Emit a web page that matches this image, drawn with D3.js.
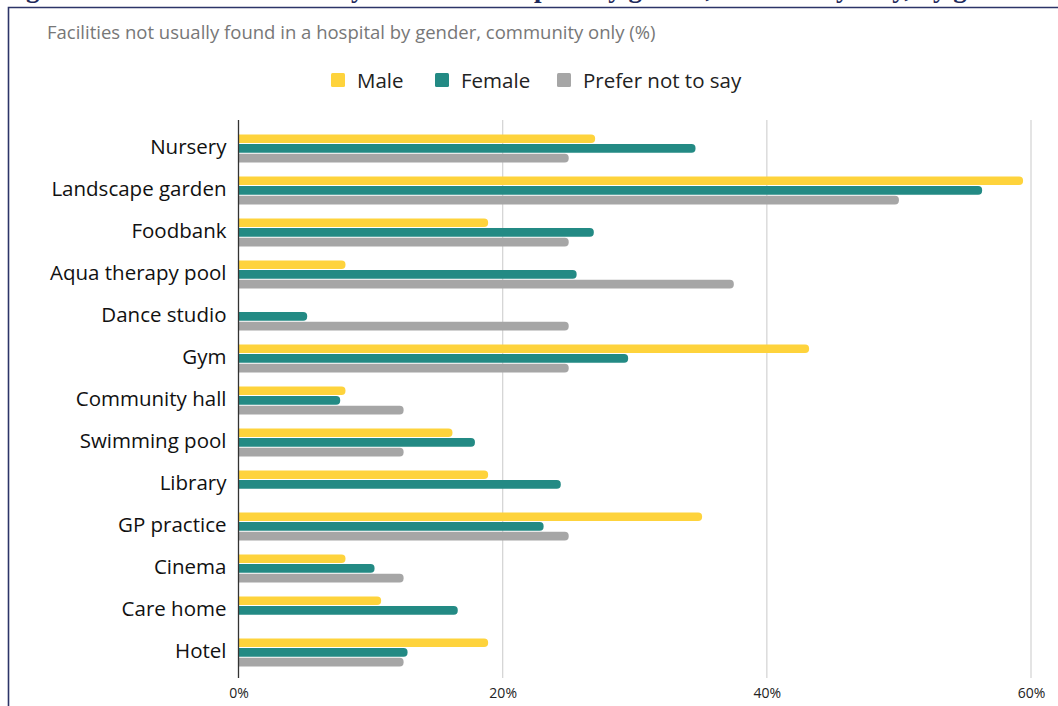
<!DOCTYPE html>
<html>
<head>
<meta charset="utf-8">
<script src="https://cdn.jsdelivr.net/npm/d3@7"></script>
<style>
  html, body { margin: 0; padding: 0; background: #fff; }
  svg { display: block; }
  .cat-label { font-family: "Open Sans", "Noto Sans", sans-serif; font-size: 20.5px; fill: #111; }
  .tick-label { font-family: "Open Sans", "Noto Sans", sans-serif; font-size: 14px; fill: #222; }
  .legend-text { font-family: "Open Sans", "Noto Sans", sans-serif; font-size: 20.5px; fill: #222; }
  .subtitle { font-family: "Open Sans", "Noto Sans", sans-serif; font-size: 18.5px; fill: #777; }
  .cut-title { font-family: "Liberation Serif", "DejaVu Serif", serif; font-size: 27px; font-weight: bold; fill: #1f2a5c; }
</style>
</head>
<body>
<svg id="chart" width="1058" height="706"></svg>
<script>
(function () {
  const categories = [
    "Nursery", "Landscape garden", "Foodbank", "Aqua therapy pool", "Dance studio",
    "Gym", "Community hall", "Swimming pool", "Library", "GP practice",
    "Cinema", "Care home", "Hotel"
  ];
  const seriesNames = ["Male", "Female", "Prefer not to say"];
  const maleValues = [27.0, 59.4, 18.9, 8.1, 0, 43.2, 8.1, 16.2, 18.9, 35.1, 8.1, 10.8, 18.9];
  const femaleValues = [34.6, 56.3, 26.9, 25.6, 5.2, 29.5, 7.7, 17.9, 24.4, 23.1, 10.3, 16.6, 12.8];
  const preferValues = [25.0, 50.0, 25.0, 37.5, 25.0, 25.0, 12.5, 12.5, 0, 25.0, 12.5, 0, 12.5];
  const xTicks = [0, 20, 40, 60];
  const colors = ["#fed33c", "#238a84", "#a6a6a6"];

  const seriesValues = [maleValues, femaleValues, preferValues];
  const rows = categories.map((c, i) => ({
    name: c,
    values: seriesNames.map((s, k) => ({ key: s, value: seriesValues[k][i] }))
  }));

  const svg = d3.select("#chart");

  // figure caption, cut off by the top of the picture (only descenders show)
  svg.append("text").attr("class", "cut-title")
    .attr("x", 2).attr("y", -3.5)
    .text("Figure 22: Facilities not usually found in a hospital by gender, community only, by gender");

  // frame
  svg.append("path")
    .attr("d", "M8.5,706 L8.5,7.5 L1058,7.5")
    .attr("fill", "none").attr("stroke", "#2c3468").attr("stroke-width", 1.6);

  svg.append("text").attr("class", "subtitle")
    .attr("x", 47).attr("y", 39)
    .text("Facilities not usually found in a hospital by gender, community only (%)");

  const x = d3.scaleLinear().domain([0, 60]).range([238.5, 1031]);
  const y0 = d3.scaleBand().domain(categories).range([127.4, 673.4]);
  const y1 = d3.scaleBand().domain(seriesNames).range([7, 35]).paddingInner(0.12);

  // gridlines
  svg.append("g").selectAll("line")
    .data(xTicks.filter((t) => t > 0))
    .join("line")
    .attr("x1", (d) => x(d)).attr("x2", (d) => x(d))
    .attr("y1", 120).attr("y2", 678)
    .attr("stroke", "#d6d6d6").attr("stroke-width", 1.3);

  // x tick labels
  const xAxis = svg.append("g").attr("transform", "translate(0,678)")
    .call(d3.axisBottom(x).tickValues(xTicks).tickSize(0).tickPadding(10).tickFormat((d) => d + "%"));
  xAxis.select(".domain").remove();
  xAxis.selectAll("text").attr("class", "tick-label").attr("fill", null).attr("font-size", null).attr("font-family", null);

  function roundedRight(x0, y, w, h, r) {
    const rr = Math.min(r, w, h / 2);
    return `M${x0},${y} H${x0 + w - rr} A${rr},${rr} 0 0 1 ${x0 + w},${y + rr} V${y + h - rr} A${rr},${rr} 0 0 1 ${x0 + w - rr},${y + h} H${x0} Z`;
  }

  const groups = svg.append("g").selectAll("g")
    .data(rows)
    .join("g")
    .attr("transform", (d) => `translate(0,${y0(d.name)})`);

  groups.selectAll("path")
    .data((d) => d.values.filter((v) => v.value > 0))
    .join("path")
    .attr("d", (v) => roundedRight(x(0), y1(v.key), x(v.value) - x(0), y1.bandwidth(), 4))
    .attr("fill", (v) => colors[seriesNames.indexOf(v.key)]);

  // y axis line and labels
  const yAxis = svg.append("g").attr("transform", `translate(${x(0)},-1)`)
    .call(d3.axisLeft(y0).tickSize(0).tickPadding(12));
  yAxis.select(".domain").remove();
  yAxis.selectAll("text").attr("class", "cat-label").attr("fill", null).attr("font-size", null).attr("font-family", null);
  svg.append("line")
    .attr("x1", x(0)).attr("x2", x(0)).attr("y1", 120).attr("y2", 678)
    .attr("stroke", "#333").attr("stroke-width", 1.3);

  // legend
  const legendItems = [
    { name: "Male", x: 331 },
    { name: "Female", x: 435 },
    { name: "Prefer not to say", x: 557 }
  ];
  const legend = svg.append("g").selectAll("g")
    .data(legendItems)
    .join("g")
    .attr("transform", (d) => `translate(${d.x},73)`);
  legend.append("rect")
    .attr("width", 14).attr("height", 14).attr("rx", 1.5)
    .attr("fill", (d, i) => colors[i]);
  legend.append("text").attr("class", "legend-text")
    .attr("x", 26).attr("y", 15)
    .text((d) => d.name);
})();
</script>
</body>
</html>
